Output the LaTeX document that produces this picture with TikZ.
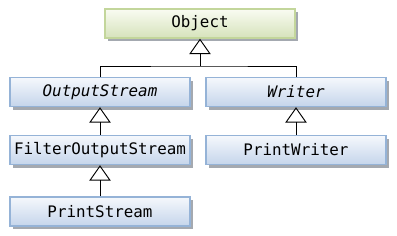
\documentclass[tikz,border=0pt]{standalone}
\usepackage{fontspec}
\setmonofont{DejaVu Sans Mono}
\usepackage{tikz}
\usetikzlibrary{arrows.meta, positioning, calc, shadows}

\definecolor{grnTop}{HTML}{F9FBF2}
\definecolor{grnBot}{HTML}{D6E3BB}
\definecolor{grnLine}{HTML}{C3D69B}
\definecolor{bluTop}{HTML}{F5F8FC}
\definecolor{bluBot}{HTML}{C5D5EB}
\definecolor{bluLine}{HTML}{95B3D7}
\definecolor{shade}{HTML}{A4A9B0}

\tikzset{
  classbox/.style={rectangle, draw=bluLine, line width=1.1pt,
    top color=bluTop, bottom color=bluBot,
    minimum width=135pt, minimum height=21.75pt, inner sep=0pt,
    font=\ttfamily\fontsize{11.9pt}{14pt}\selectfont, text=black,
    drop shadow={shadow xshift=2.25pt, shadow yshift=-2.25pt, fill=shade, opacity=1}},
  rootbox/.style={classbox, draw=grnLine, top color=grnTop, bottom color=grnBot,
    minimum width=142.5pt},
  inherits/.style={line width=0.75pt, -{Triangle[open, width=16pt, length=11.5pt, line width=0.7pt]}},
  plain/.style={line width=0.75pt}
}

\begin{document}
\begin{tikzpicture}[x=0.75pt, y=-0.75pt]
  \useasboundingbox (0,0) rectangle (397,236);

  % Root class
  \node[rootbox] (Object) at (200,23.5) {Object};

  % Abstract classes
  \node[classbox] (OutputStream) at (100,92) {\itshape OutputStream};
  \node[classbox] (Writer) at (296,92) {\itshape Writer};

  % Subclasses
  \node[classbox] (FilterOutputStream) at (100,150) {FilterOutputStream};
  \node[classbox] (PrintWriter) at (296,150) {PrintWriter};
  \node[classbox] (PrintStream) at (100,211.5) {PrintStream};

  % Inheritance arrows
  \coordinate (split) at (Object.south |- 0,66);
  \draw[inherits] (split) -- (Object.south);
  \draw[plain] (OutputStream.north) |- (split) -| (Writer.north);
  \draw[inherits] (FilterOutputStream.north) -- (OutputStream.south);
  \draw[inherits] (PrintWriter.north) -- (Writer.south);
  \draw[inherits] (PrintStream.north) -- (FilterOutputStream.south);
\end{tikzpicture}
\end{document}
